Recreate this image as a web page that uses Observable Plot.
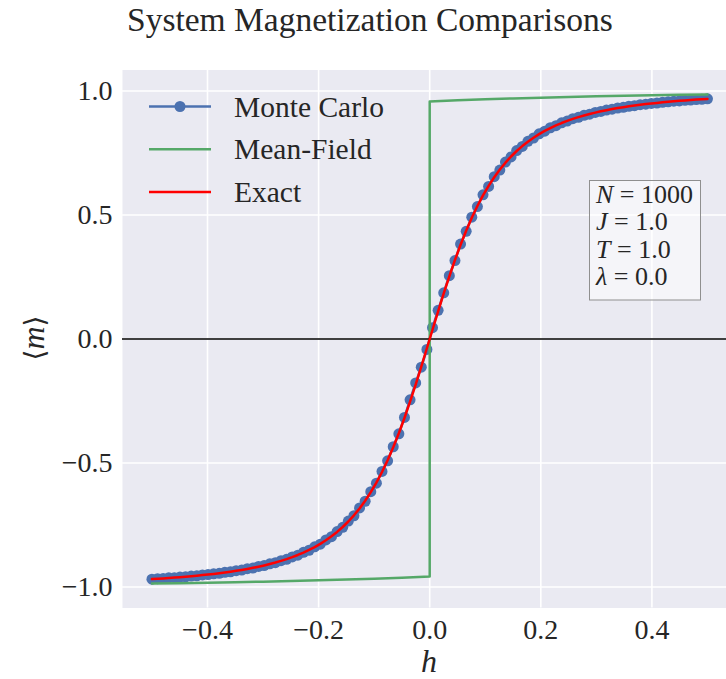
<!DOCTYPE html>
<html>
<head>
<meta charset="utf-8">
<script src="https://cdn.jsdelivr.net/npm/d3@7"></script>
<script src="https://cdn.jsdelivr.net/npm/@observablehq/plot@0.6"></script>
<style>
  html, body { margin: 0; padding: 0; background: white; overflow: hidden; }
  #chart svg { display: block; overflow: hidden; }
  #chart svg text { font-family: "Liberation Serif", "Times New Roman", serif; }
</style>
</head>
<body>
<div id="chart"></div>
<script>
// Field grid shared by the Monte Carlo run and the exact solution (100 samples on [-0.5, 0.5])
const nSamples = 100;
const fieldGrid = d3.range(nSamples).map(i => -0.5 + i / (nSamples - 1));

// Monte Carlo magnetization <m> at each field value
const mcM = [
  -0.9684,-0.9661,-0.9655,-0.9630,-0.9622,-0.9597,-0.9588,-0.9559,-0.9546,-0.9514,
  -0.9499,-0.9466,-0.9447,-0.9405,-0.9386,-0.9340,-0.9315,-0.9262,-0.9233,-0.9171,
  -0.9136,-0.9064,-0.9020,-0.8938,-0.8882,-0.8785,-0.8716,-0.8600,-0.8517,-0.8378,
  -0.8271,-0.8102,-0.7968,-0.7762,-0.7594,-0.7341,-0.7126,-0.6812,-0.6541,-0.6155,
  -0.5812,-0.5340,-0.4912,-0.4344,-0.3823,-0.3162,-0.2451,-0.1772,-0.1134,-0.0421,
   0.0458, 0.1157, 0.1861, 0.2555, 0.3160, 0.3826, 0.4341, 0.4913, 0.5338, 0.5815,
   0.6153, 0.6545, 0.6810, 0.7131, 0.7341, 0.7596, 0.7764, 0.7969, 0.8104, 0.8271,
   0.8380, 0.8517, 0.8602, 0.8716, 0.8786, 0.8881, 0.8939, 0.9019, 0.9066, 0.9134,
   0.9173, 0.9231, 0.9264, 0.9313, 0.9341, 0.9384, 0.9408, 0.9446, 0.9466, 0.9499,
   0.9515, 0.9545, 0.9560, 0.9586, 0.9598, 0.9622, 0.9632, 0.9654, 0.9662, 0.9682
];

// Exact magnetization on the same grid
const exactM = [
  -0.9679,-0.9665,-0.9651,-0.9635,-0.9619,-0.9601,-0.9583,-0.9563,-0.9542,-0.9519,
  -0.9495,-0.9470,-0.9442,-0.9412,-0.9380,-0.9346,-0.9309,-0.9269,-0.9226,-0.9179,
  -0.9128,-0.9072,-0.9012,-0.8946,-0.8873,-0.8794,-0.8707,-0.8611,-0.8506,-0.8389,
  -0.8259,-0.8115,-0.7955,-0.7777,-0.7579,-0.7357,-0.7109,-0.6831,-0.6522,-0.6175,
  -0.5790,-0.5362,-0.4888,-0.4367,-0.3799,-0.3185,-0.2528,-0.1835,-0.1113,-0.0373,
   0.0373, 0.1113, 0.1835, 0.2528, 0.3185, 0.3799, 0.4367, 0.4888, 0.5362, 0.5790,
   0.6175, 0.6522, 0.6831, 0.7109, 0.7357, 0.7579, 0.7777, 0.7955, 0.8115, 0.8259,
   0.8389, 0.8506, 0.8611, 0.8707, 0.8794, 0.8873, 0.8946, 0.9012, 0.9072, 0.9128,
   0.9179, 0.9226, 0.9269, 0.9309, 0.9346, 0.9380, 0.9412, 0.9442, 0.9470, 0.9495,
   0.9519, 0.9542, 0.9563, 0.9583, 0.9601, 0.9619, 0.9635, 0.9651, 0.9665, 0.9679
];

// Mean-field branches: h < 0 branch then h > 0 branch, jumping at h = 0
const mfH = [-0.5,-0.45,-0.4,-0.35,-0.3,-0.25,-0.2,-0.15,-0.1,-0.05,0,
              0,0.05,0.1,0.15,0.2,0.25,0.3,0.35,0.4,0.45,0.5];
const mfM = [-0.9859,-0.9843,-0.9825,-0.9805,-0.9783,-0.9758,-0.9730,-0.9698,-0.9662,-0.9622,-0.9575,
              0.9575,0.9622,0.9662,0.9698,0.9730,0.9758,0.9783,0.9805,0.9825,0.9843,0.9859];

const xTicks = [-0.4, -0.2, 0.0, 0.2, 0.4];
const yTicks = [-1.0, -0.5, 0.0, 0.5, 1.0];
const seriesNames = ["Monte Carlo", "Mean-Field", "Exact"];
const paramLines = [["N", "1000"], ["J", "1.0"], ["T", "1.0"], ["λ", "0.0"]];

const mc = fieldGrid.map((h, i) => ({h, m: mcM[i]}));
const exact = fieldGrid.map((h, i) => ({h, m: exactM[i]}));
const mf = mfH.map((h, i) => ({h, m: mfM[i]}));

const colors = {mc: "#4C72B0", mf: "#55A868", exact: "#FF0000"};
const ink = "#262626";
const fmt = d3.format(".1f");

const W = 726, H = 679;
const chart = Plot.plot({
  width: W,
  height: H,
  marginTop: 69.5,
  marginBottom: 71.5,
  marginLeft: 122,
  marginRight: -10.4,
  style: {fontSize: "28px", color: ink, background: "white"},
  x: {domain: [-0.553, 0.553], label: null},
  y: {domain: [-1.0845, 1.0845], label: null},
  marks: [
    Plot.frame({fill: "#EAEAF2", stroke: null}),
    Plot.gridX(xTicks, {stroke: "white", strokeOpacity: 1, strokeWidth: 1.6}),
    Plot.gridY(yTicks, {stroke: "white", strokeOpacity: 1, strokeWidth: 1.6}),
    Plot.axisX(xTicks, {tickSize: 0, tickPadding: 11, tickFormat: fmt, fontSize: 28, fill: ink, label: null}),
    Plot.axisY(yTicks, {tickSize: 0, tickPadding: 10, tickFormat: fmt, fontSize: 28, fill: ink, label: null}),
    Plot.line(mc, {x: "h", y: "m", stroke: colors.mc, strokeWidth: 2.5}),
    Plot.dot(mc, {x: "h", y: "m", r: 5.5, fill: colors.mc, stroke: null}),
    Plot.line(mf, {x: "h", y: "m", stroke: colors.mf, strokeWidth: 2.5}),
    Plot.ruleY([0], {stroke: "black", strokeWidth: 1.6}),
    Plot.line(exact, {x: "h", y: "m", stroke: colors.exact, strokeWidth: 2.5})
  ]
});

document.getElementById("chart").appendChild(chart);
const svg = d3.select(chart);

// Title
svg.append("text")
  .attr("x", 127).attr("y", 31)
  .attr("text-anchor", "start")
  .attr("font-size", 33.5).attr("fill", ink)
  .text("System Magnetization Comparisons");

// Axis labels
svg.append("text")
  .attr("x", 429).attr("y", 672)
  .attr("text-anchor", "middle")
  .attr("font-size", 32).attr("font-style", "italic").attr("fill", ink)
  .text("h");

const yLab = svg.append("text")
  .attr("transform", "translate(44,338) rotate(-90)")
  .attr("text-anchor", "middle")
  .attr("font-size", 32).attr("fill", ink);
yLab.append("tspan").attr("style", "font-family: 'DejaVu Serif', serif").attr("font-size", 28).text("⟨");
yLab.append("tspan").attr("font-style", "italic").text("m");
yLab.append("tspan").attr("style", "font-family: 'DejaVu Serif', serif").attr("font-size", 28).text("⟩");

// Legend
const legend = svg.append("g").attr("font-size", 29.5).attr("fill", ink).attr("text-anchor", "start");
const legendColors = [colors.mc, colors.mf, colors.exact];
seriesNames.forEach((name, i) => {
  const cy = 106.5 + i * 42.8;
  legend.append("line")
    .attr("x1", 149).attr("x2", 211).attr("y1", cy).attr("y2", cy)
    .attr("stroke", legendColors[i]).attr("stroke-width", 2.5);
  if (i === 0) {
    legend.append("circle").attr("cx", 180).attr("cy", cy).attr("r", 5.5).attr("fill", colors.mc);
  }
  legend.append("text").attr("x", 234).attr("y", cy + 10).text(name);
});

// Parameter box
const box = svg.append("g").attr("text-anchor", "start");
box.append("rect")
  .attr("x", 589.5).attr("y", 180.5).attr("width", 111).attr("height", 119.5)
  .attr("fill", "white").attr("fill-opacity", 0.5)
  .attr("stroke", "#8f8f8f").attr("stroke-width", 1);
paramLines.forEach(([sym, val], i) => {
  const t = box.append("text")
    .attr("x", 596).attr("y", 203 + i * 27.3)
    .attr("font-size", 26).attr("fill", ink);
  t.append("tspan").attr("font-style", "italic").text(sym);
  t.append("tspan").text(" = " + val);
});
</script>
</body>
</html>
